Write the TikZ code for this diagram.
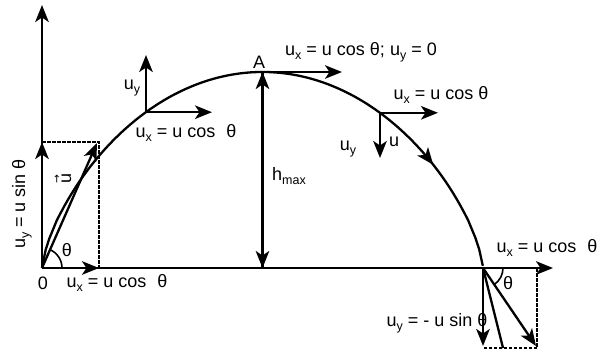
\documentclass[tikz,border=0pt]{standalone}
\usepackage{fontspec}
\setmainfont{Liberation Sans}
\newfontfamily\arrowfont{DejaVu Sans}
\usetikzlibrary{arrows.meta,decorations.markings}
\newcommand{\sbx}[1]{\raisebox{-0.42ex}{\fontsize{12.5}{12.5}\selectfont #1}}
\newcommand{\vecu}{\rlap{\hspace{-0.03em}\raisebox{11pt}{\arrowfont\fontsize{10.5}{10.5}\selectfont →}}u}
\begin{document}
\begin{tikzpicture}[x=1pt,y=-1pt, line width=2.3pt, line join=miter,
  arr/.style={-{Stealth[length=17pt,width=13.5pt,inset=4.5pt]}},
  lbl/.style={inner sep=0pt, font=\fontsize{18}{20}\selectfont},
  dsh/.style={line width=1.6pt, dash pattern=on 3.5pt off 1.5pt},
  thin arc/.style={line width=1.6pt}]
\useasboundingbox (0,0) rectangle (607,351);
% key points
\coordinate (O) at (42,268);
\coordinate (Ytop) at (42,5);
\coordinate (Xend) at (553,268);
\coordinate (L) at (483,268);
\coordinate (A) at (262.5,72);
\coordinate (H) at (262.5,268);
\coordinate (Uy0) at (42,142);
\coordinate (C0) at (99,142);
\coordinate (Ux0) at (99,268);
\coordinate (U) at (97,143);
\coordinate (P1) at (146,112.2);
\coordinate (P1y) at (146,55);
\coordinate (P1x) at (212,112.2);
\coordinate (Ax) at (342,72);
\coordinate (P2) at (380,112.8);
\coordinate (P2x) at (438,112.8);
\coordinate (P2y) at (380,158);
\coordinate (Ld) at (483,346);
\coordinate (Lm) at (503,348);
\coordinate (Lr) at (536,346);
\coordinate (Lc) at (537,348);
\coordinate (Lb) at (483,348);
\coordinate (Lx) at (537,268);
% axes
\draw[arr] (O) -- (Ytop);
\draw[arr] (O) -- (Xend);
% launch components
\draw[dsh] (Uy0) -- (C0) -- (Ux0);
\draw[arr] (O) -- (Uy0);
\draw[arr] (O) -- (Ux0);
\draw[arr] (O) -- (U);
\draw[thin arc] (O) ++(20,0) arc[start angle=0, end angle=-66, radius=20];
% trajectory
\draw[postaction=decorate, decoration={markings, mark=at position 0.82 with {\arrow{Stealth[length=17pt,width=13.5pt,inset=4.5pt]}}}]
  plot[domain=-1:1, samples=120, variable=\t] ({262.5+220.5*\t}, {268-196*pow(max(1-\t*\t,0.00001),0.7)});
% point P1
\draw[arr] (P1) -- (P1y);
\draw[arr] (P1) -- (P1x);
% top
\draw[arr] (A) -- (Ax);
\draw[arr] (H) -- (A);
\draw[arr] (A) -- (H);
% point P2
\draw[arr] (P2) -- (P2x);
\draw[arr] (P2) -- (P2y);
% landing
\draw[dsh] (Lx) -- (Lc) -- (Lb);
\draw[arr] (L) -- (Ld);
\draw (L) -- (Lm);
\draw[arr] (L) -- (Lr);
\draw[thin arc] (L) ++(20,0) arc[start angle=0, end angle=55, radius=20];
% labels
\node[lbl, rotate=90] (tUy) at (22,204) {u\sbx{y} = u sin θ};
\node[lbl, rotate=90] (tU) at (63,178) {\vecu};
\node[lbl] (tTh1) at (67,250) {θ};
\node[lbl] (t0) at (43,283) {0};
\node[lbl] (tUx1) at (117,283) {u\sbx{x} = u cos\hspace{0.6em}θ};
\node[lbl] (tUy2) at (132,88) {u\sbx{y}};
\node[lbl] (tUx2) at (186,133) {u\sbx{x} = u cos\hspace{0.6em}θ};
\node[lbl] (tA) at (259,62) {A};
\node[lbl] (tTop) at (361,52) {u\sbx{x} = u cos θ; u\sbx{y} = 0};
\node[lbl] (tH) at (289,176) {h\sbx{max}};
\node[lbl] (tUx3) at (441,95) {u\sbx{x} = u cos θ};
\node[lbl] (tU3) at (394,142) {u};
\node[lbl] (tUy3) at (348,149) {u\sbx{y}};
\node[lbl] (tUx4) at (547,248) {u\sbx{x} = u cos\hspace{0.6em}θ};
\node[lbl] (tTh2) at (508,283) {θ};
\node[lbl] (tUy4) at (437,323) {u\sbx{y} = - u sin θ};
\end{tikzpicture}
\end{document}
